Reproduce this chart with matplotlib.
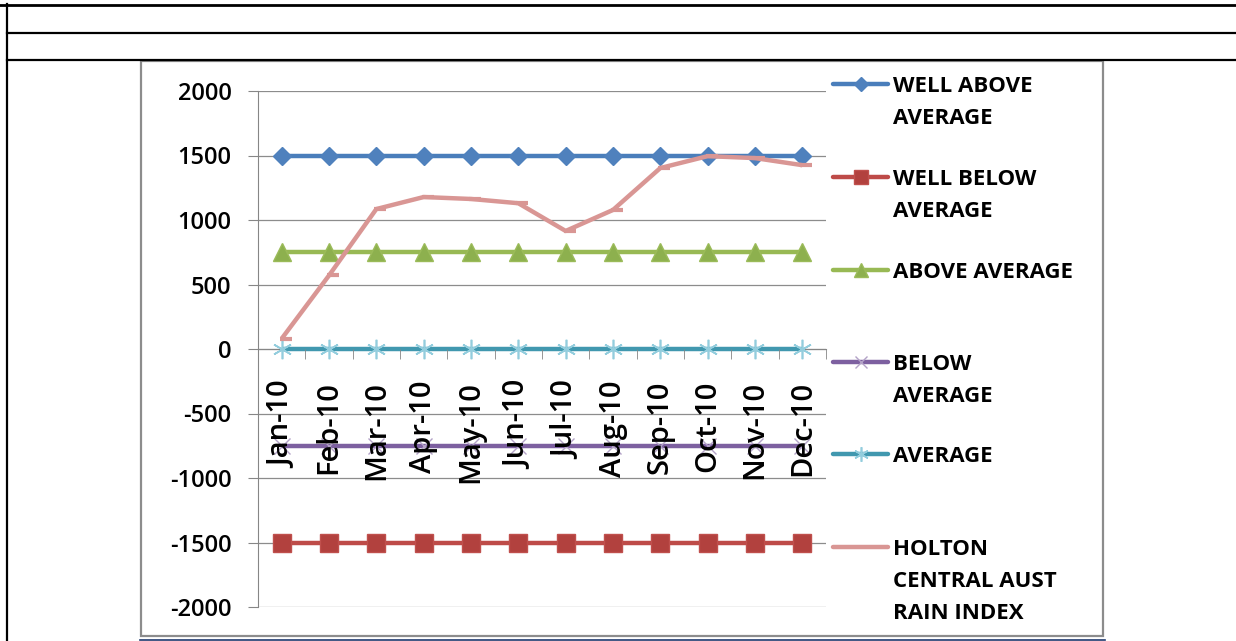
import matplotlib.pyplot as plt
from matplotlib.lines import Line2D
from matplotlib.patches import Rectangle
from matplotlib.path import Path

months = ['Jan-10', 'Feb-10', 'Mar-10', 'Apr-10', 'May-10', 'Jun-10',
          'Jul-10', 'Aug-10', 'Sep-10', 'Oct-10', 'Nov-10', 'Dec-10']
well_above = [1500, 1500, 1500, 1500, 1500, 1500, 1500, 1500, 1500, 1500, 1500, 1500]
well_below = [-1500, -1500, -1500, -1500, -1500, -1500, -1500, -1500, -1500, -1500, -1500, -1500]
above_avg = [750, 750, 750, 750, 750, 750, 750, 750, 750, 750, 750, 750]
below_avg = [-750, -750, -750, -750, -750, -750, -750, -750, -750, -750, -750, -750]
average = [0, 0, 0, 0, 0, 0, 0, 0, 0, 0, 0, 0]
holton = [80, 570, 1085, 1178, 1163, 1130, 915, 1078, 1403, 1495, 1480, 1425]

plt.rcParams['font.family'] = 'Open Sans'
plt.rcParams['axes.unicode_minus'] = False

W, H = 1236, 641
def fx(px):
    return px / W
def fy(py):
    return 1 - py / H

fig = plt.figure(figsize=(12.36, 6.41), dpi=100)

# page / table frame
frame = dict(transform=fig.transFigure, color='black')
fig.add_artist(Line2D([0, 1], [fy(5), fy(5)], lw=2, **frame))
fig.add_artist(Line2D([fx(7), 1], [fy(33), fy(33)], lw=1.6, **frame))
fig.add_artist(Line2D([fx(7), 1], [fy(60), fy(60)], lw=1.6, **frame))
fig.add_artist(Line2D([fx(7), fx(7)], [fy(4), 0], lw=1.6, **frame))
fig.add_artist(Rectangle((fx(141), fy(636)), fx(1103) - fx(141), fy(61) - fy(636),
                         transform=fig.transFigure, fill=False, ec='#8c8c8c', lw=1.6))
fig.add_artist(Line2D([fx(140), fx(1105)], [fy(640), fy(640)], transform=fig.transFigure,
                      color='#1f3a6e', lw=1.2))

ax = fig.add_axes([fx(258), fy(607), fx(826) - fx(258), fy(91) - fy(607)])
x = list(range(len(months)))

asterisk = (6, 2, 0)
dash = Path([(-0.25, 0), (1, 0)], [Path.MOVETO, Path.LINETO])

series = [
    ('WELL ABOVE\nAVERAGE', well_above, '#4A7EBB', dict(marker='D', ms=9.5, mfc='#4F81BD', mec='#4F81BD')),
    ('WELL BELOW\nAVERAGE', well_below, '#BE4B48', dict(marker='s', ms=13, mfc='#B2413E', mec='#C0504D')),
    ('ABOVE AVERAGE', above_avg, '#98B954', dict(marker='^', ms=13.5, mfc='#8DB04E', mec='#9BBB59')),
    ('BELOW\nAVERAGE', below_avg, '#7D60A0', dict(marker='x', ms=11, mec='#B3A2C7', mew=1)),
    ('AVERAGE', average, '#4198AF', dict(marker=asterisk, ms=14, mec='#93CDDD', mew=1.2)),
    ('HOLTON\nCENTRAL AUST\nRAIN INDEX', holton, '#D99694', dict(marker=dash, ms=14, mec='#D99694', mew=3)),
]

for i, (name, vals, col, mk) in enumerate(series):
    ax.plot(x, vals, color=col, lw=3.2, zorder=3 + i, solid_capstyle='butt', **mk)

ax.set_xlim(-0.5, 11.5)
ax.set_ylim(-2000, 2000)
ax.set_yticks(range(-2000, 2001, 500))
ax.yaxis.grid(True, color='#8c8c8c', lw=0.9)
ax.set_axisbelow(True)
ax.xaxis.set_zorder(10)  # month labels sit over the purple line

for s in ['top', 'right']:
    ax.spines[s].set_visible(False)
ax.spines['left'].set_color('#868686')
ax.spines['bottom'].set_color('#868686')
ax.spines['bottom'].set_position(('data', 0))

ax.set_xticks(x)
ax.set_xticklabels(months, rotation=90)
ax.set_xticks([i - 0.5 for i in range(len(months) + 1)], minor=True)
ax.tick_params(axis='x', which='major', length=0, pad=23, labelsize=21)
ax.tick_params(axis='x', which='minor', length=7, color='#868686', direction='out')
ax.tick_params(axis='y', length=7, color='#868686', pad=12, labelsize=17)
for lab in ax.get_xticklabels() + ax.get_yticklabels():
    lab.set_fontweight('semibold')

# legend on the right, drawn by hand so the handle sits on the first text line
handle_y = [84, 177, 270, 362, 454, 547]
for (name, vals, col, mk), hy in zip(series, handle_y):
    fig.add_artist(Line2D([fx(833), fx(888)], [fy(hy), fy(hy)], transform=fig.transFigure,
                          color=col, lw=3.2, solid_capstyle='round'))
    lm = dict(mk)
    lm['ms'] = mk['ms'] * 0.75
    if name.startswith('HOLTON'):
        lm = {}
    fig.add_artist(Line2D([fx(861)], [fy(hy)], transform=fig.transFigure, lw=0, **lm))
    for j, line in enumerate(name.split('\n')):
        fig.text(fx(893), fy(hy + 8 + j * 32), line, fontsize=16, fontweight='bold',
                 va='baseline', ha='left')

fig.savefig('out.png', dpi=100)
